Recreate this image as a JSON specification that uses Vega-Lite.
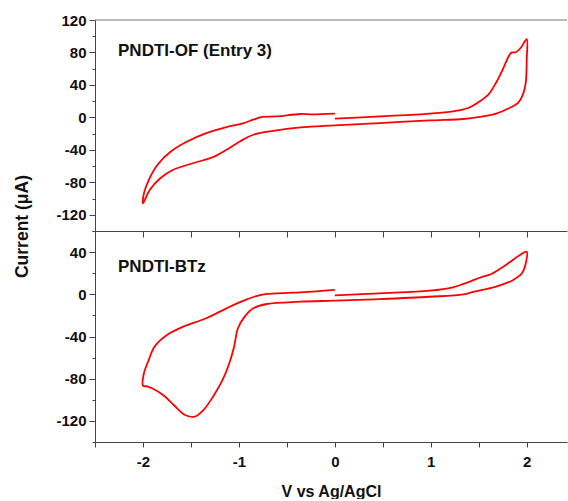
{
  "$schema": "https://vega.github.io/schema/vega-lite/v6.json",
  "autosize": {"type": "pad"},
  "padding": {"left": 13, "top": 13, "right": 0, "bottom": 0},
  "background": "white",
  "bounds": "flush",
  "spacing": 0,
  "config": {
    "font": "Liberation Sans",
    "view": {"stroke": null},
    "axis": {
      "grid": false,
      "domainColor": "#444",
      "tickColor": "#444",
      "labelFont": "Liberation Sans",
      "labelFontWeight": "bold",
      "labelFontSize": 15,
      "labelColor": "#111",
      "titleFont": "Liberation Sans",
      "titleFontWeight": "bold",
      "titleColor": "#111"
    }
  },
  "vconcat": [
    {
      "width": 472,
      "height": 211,
      "layer": [
        {
          "data": {"values": [
            {"k":0,"v":0,"i":-1.6},{"k":1,"v":0.47,"i":1.2},{"k":2,"v":0.99,"i":4.6},{"k":3,"v":1.23,"i":7.4},{"k":4,"v":1.39,"i":11.6},{"k":5,"v":1.51,"i":19.8},{"k":6,"v":1.6,"i":28},{"k":7,"v":1.68,"i":42.6},{"k":8,"v":1.75,"i":59},{"k":9,"v":1.81,"i":74.8},{"k":10,"v":1.84,"i":79.8},{"k":11,"v":1.89,"i":80.5},{"k":12,"v":1.94,"i":86},{"k":13,"v":2.0,"i":96.3},{"k":14,"v":2.0,"i":71.5},{"k":15,"v":1.99,"i":42.6},{"k":16,"v":1.96,"i":28},{"k":17,"v":1.91,"i":17.8},{"k":18,"v":1.82,"i":11.6},{"k":19,"v":1.68,"i":4.6},{"k":20,"v":1.51,"i":0.5},{"k":21,"v":1.34,"i":-2},{"k":22,"v":0.99,"i":-3.7},{"k":23,"v":0.47,"i":-7},{"k":24,"v":0,"i":-9.9},{"k":25,"v":-0.36,"i":-12.4},{"k":26,"v":-0.64,"i":-16.5},{"k":27,"v":-0.85,"i":-21.4},{"k":28,"v":-0.99,"i":-29.7},{"k":29,"v":-1.13,"i":-40},{"k":30,"v":-1.27,"i":-49},{"k":31,"v":-1.48,"i":-56.5},{"k":32,"v":-1.69,"i":-64.8},{"k":33,"v":-1.82,"i":-75},{"k":34,"v":-1.93,"i":-89.6},{"k":35,"v":-2.0,"i":-106},{"k":36,"v":-1.99,"i":-93.7},{"k":37,"v":-1.94,"i":-77.2},{"k":38,"v":-1.85,"i":-58.6},{"k":39,"v":-1.71,"i":-42.1},{"k":40,"v":-1.54,"i":-29.7},{"k":41,"v":-1.34,"i":-19.3},{"k":42,"v":-1.13,"i":-11.9},{"k":43,"v":-0.95,"i":-7},{"k":44,"v":-0.85,"i":-2.8},{"k":45,"v":-0.76,"i":0.5},{"k":46,"v":-0.61,"i":1.2},{"k":47,"v":-0.36,"i":4.2},{"k":48,"v":-0.23,"i":3.6},{"k":49,"v":0,"i":4.6}
          ]},
          "mark": {"type": "line", "color": "#ff0000", "strokeWidth": 1.8, "interpolate": "catmull-rom"},
          "encoding": {
            "x": {"field": "v", "type": "quantitative",
              "scale": {"domain": [-2.5, 2.42], "nice": false, "zero": false},
              "axis": {"values": [-2.5,-2,-1.5,-1,-0.5,0,0.5,1,1.5,2], "tickCount": 30, "labels": false, "title": null, "tickSize": 6}},
            "y": {"field": "i", "type": "quantitative",
              "scale": {"domain": [-140, 120], "nice": false, "zero": false},
              "axis": {"values": [-140,-120,-100,-80,-60,-40,-20,0,20,40,60,80,100,120],
                "tickCount": 30,
                "labelExpr": "datum.value % 40 === 0 ? '' + datum.value : ''",
                "labelOverlap": false,
                "tickSize": {"condition": {"test": "datum.value % 40 === 0", "value": 6}, "value": 3},
                "labelPadding": 3,
                "title": "Current (μA)", "titleFontSize": 17.5, "titleAngle": -90,
                "titleX": -73, "titleY": 206, "titleAlign": "center", "titleBaseline": "middle"}},
            "order": {"field": "k", "type": "quantitative"}
          }
        },
        {
          "data": {"values": [{}]},
          "mark": {"type": "rule", "color": "#777", "strokeWidth": 1},
          "encoding": {"y": {"datum": 120}}
        },
        {
          "data": {"values": [{}]},
          "mark": {"type": "text", "align": "left", "baseline": "middle", "fontSize": 17, "fontWeight": "bold", "font": "Liberation Sans", "color": "#111"},
          "encoding": {"x": {"datum": -2.26}, "y": {"datum": 82}, "text": {"value": "PNDTI-OF (Entry 3)"}}
        }
      ]
    },
    {
      "width": 472,
      "height": 211,
      "layer": [
        {
          "data": {"values": [
            {"k":0,"v":0,"i":-1},{"k":1,"v":0.47,"i":0.9},{"k":2,"v":0.99,"i":3.4},{"k":3,"v":1.23,"i":6.6},{"k":4,"v":1.34,"i":9.8},{"k":5,"v":1.45,"i":13.6},{"k":6,"v":1.51,"i":15.7},{"k":7,"v":1.63,"i":19.2},{"k":8,"v":1.73,"i":24.6},{"k":9,"v":1.83,"i":30.9},{"k":10,"v":1.93,"i":37.3},{"k":11,"v":2.0,"i":40.4},{"k":12,"v":1.99,"i":29.4},{"k":13,"v":1.95,"i":19.9},{"k":14,"v":1.86,"i":13.6},{"k":15,"v":1.68,"i":7.2},{"k":16,"v":1.45,"i":2.5},{"k":17,"v":1.34,"i":0},{"k":18,"v":0.99,"i":-2.3},{"k":19,"v":0.47,"i":-4.5},{"k":20,"v":0,"i":-6},{"k":21,"v":-0.36,"i":-7},{"k":22,"v":-0.71,"i":-9.2},{"k":23,"v":-0.85,"i":-13.3},{"k":24,"v":-0.94,"i":-21.2},{"k":25,"v":-1.01,"i":-32.2},{"k":26,"v":-1.05,"i":-49.7},{"k":27,"v":-1.1,"i":-65.4},{"k":28,"v":-1.17,"i":-81.2},{"k":29,"v":-1.27,"i":-97.1},{"k":30,"v":-1.37,"i":-109.7},{"k":31,"v":-1.46,"i":-116},{"k":32,"v":-1.56,"i":-114.4},{"k":33,"v":-1.68,"i":-104.9},{"k":34,"v":-1.79,"i":-95.5},{"k":35,"v":-1.9,"i":-89.3},{"k":36,"v":-1.96,"i":-87.3},{"k":37,"v":-2.0,"i":-86.6},{"k":38,"v":-1.99,"i":-74.9},{"k":39,"v":-1.94,"i":-62.3},{"k":40,"v":-1.88,"i":-49.7},{"k":41,"v":-1.75,"i":-38.6},{"k":42,"v":-1.58,"i":-30.7},{"k":43,"v":-1.34,"i":-22.7},{"k":44,"v":-1.13,"i":-13.3},{"k":45,"v":-0.95,"i":-6},{"k":46,"v":-0.78,"i":-0.7},{"k":47,"v":-0.61,"i":0.9},{"k":48,"v":-0.36,"i":1.9},{"k":49,"v":-0.23,"i":2.5},{"k":50,"v":0,"i":4.1}
          ]},
          "mark": {"type": "line", "color": "#ff0000", "strokeWidth": 1.8, "interpolate": "catmull-rom"},
          "encoding": {
            "x": {"field": "v", "type": "quantitative",
              "scale": {"domain": [-2.5, 2.42], "nice": false, "zero": false},
              "axis": {"values": [-2.5,-2,-1.5,-1,-0.5,0,0.5,1,1.5,2],
                "tickCount": 30,
                "labelExpr": "datum.value % 1 === 0 ? '' + datum.value : ''",
                "tickSize": 5, "labelPadding": 7,
                "title": "V vs Ag/AgCl", "titleFontSize": 16, "titlePadding": 14}},
            "y": {"field": "i", "type": "quantitative",
              "scale": {"domain": [-140, 60], "nice": false, "zero": false},
              "axis": {"values": [-140,-120,-100,-80,-60,-40,-20,0,20,40,60],
                "tickCount": 30,
                "labelExpr": "datum.value % 40 === 0 ? '' + datum.value : ''",
                "labelOverlap": false,
                "tickSize": {"condition": {"test": "datum.value % 40 === 0", "value": 6}, "value": 3},
                "labelPadding": 3,
                "title": null}},
            "order": {"field": "k", "type": "quantitative"}
          }
        },
        {
          "data": {"values": [{}]},
          "mark": {"type": "text", "align": "left", "baseline": "middle", "fontSize": 17, "fontWeight": "bold", "font": "Liberation Sans", "color": "#111"},
          "encoding": {"x": {"datum": -2.26}, "y": {"datum": 26}, "text": {"value": "PNDTI-BTz"}}
        }
      ]
    }
  ]
}
